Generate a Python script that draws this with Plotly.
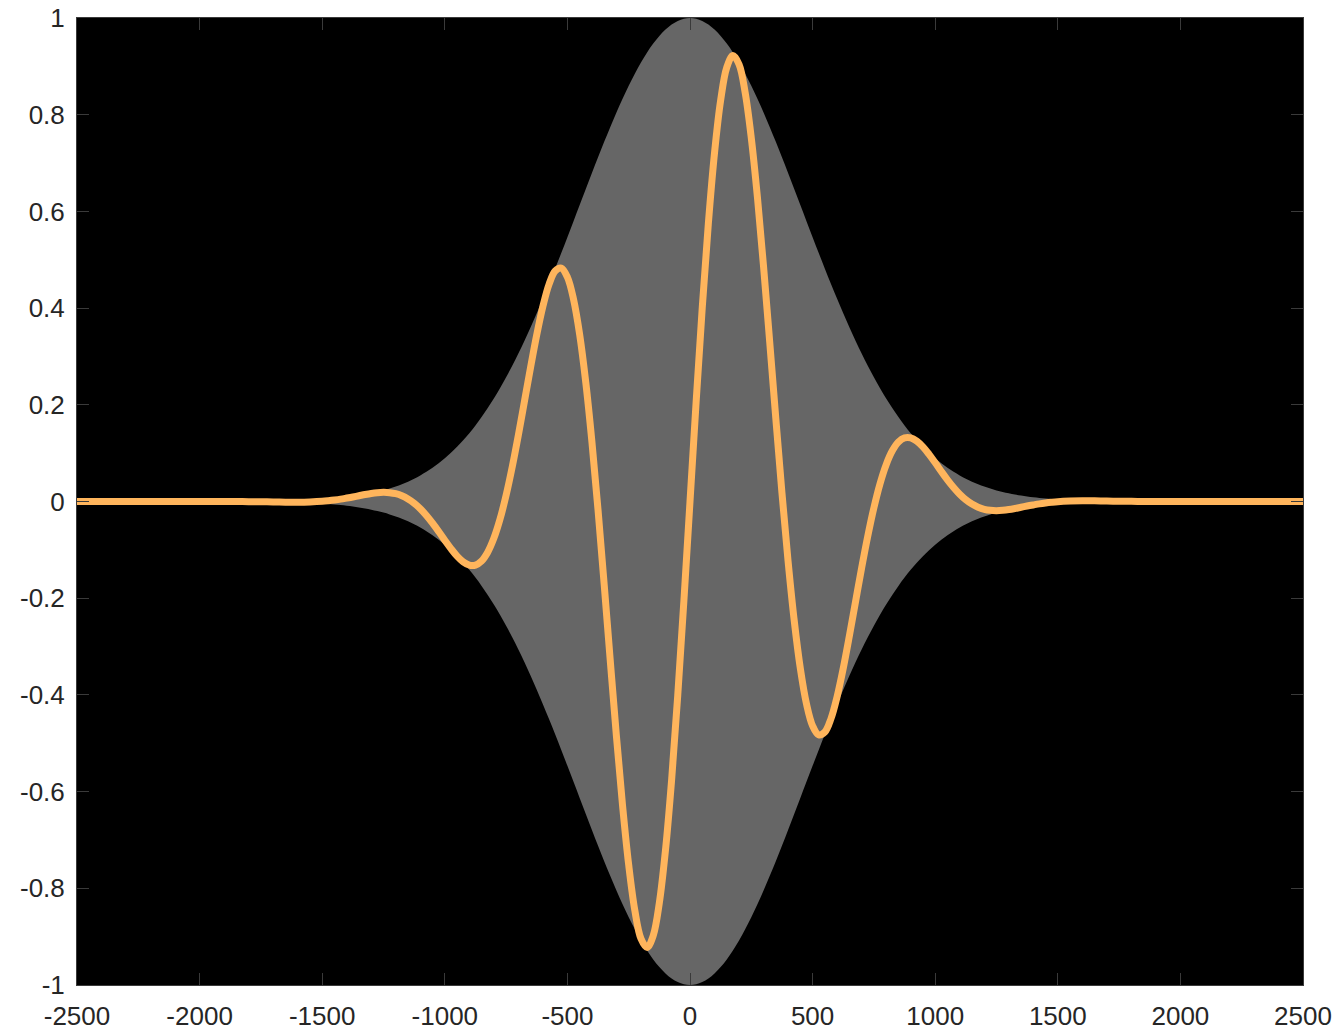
import plotly.graph_objects as go

# Sample positions: coarse in the flat tails, finer across the packet
x_vals = (list(range(-2500, -1500, 50))
          + list(range(-1500, 1501, 25))
          + list(range(1550, 2501, 50)))

# Gaussian envelope amplitude at each sample
envelope = [
    # -2500 .. -1550
    0, 0, 0, 0, 0, 0, 0, 0, 0, 0,
    0.0001, 0.0001, 0.0002, 0.0003, 0.0004, 0.0006, 0.0009, 0.0014, 0.0021, 0.0030,
    # -1500 .. -25
    0.0044, 0.0052, 0.0062, 0.0074, 0.0088, 0.0104, 0.0123, 0.0144, 0.0169, 0.0197,
    0.0230, 0.0267, 0.0309, 0.0356, 0.0410, 0.0470, 0.0538, 0.0613, 0.0697, 0.0791,
    0.0893, 0.1006, 0.1130, 0.1266, 0.1413, 0.1574, 0.1746, 0.1932, 0.2131, 0.2344,
    0.2570, 0.2809, 0.3062, 0.3327, 0.3604, 0.3893, 0.4191, 0.4500, 0.4816, 0.5139,
    0.5467, 0.5798, 0.6132, 0.6464, 0.6794, 0.7120, 0.7439, 0.7748, 0.8046, 0.8330,
    0.8599, 0.8849, 0.9079, 0.9287, 0.9471, 0.9630, 0.9761, 0.9865, 0.9940, 0.9985,
    # 0
    1.0,
    # 25 .. 1500
    0.9985, 0.9940, 0.9865, 0.9761, 0.9630, 0.9471, 0.9287, 0.9079, 0.8849, 0.8599,
    0.8330, 0.8046, 0.7748, 0.7439, 0.7120, 0.6794, 0.6464, 0.6132, 0.5798, 0.5467,
    0.5139, 0.4816, 0.4500, 0.4191, 0.3893, 0.3604, 0.3327, 0.3062, 0.2809, 0.2570,
    0.2344, 0.2131, 0.1932, 0.1746, 0.1574, 0.1413, 0.1266, 0.1130, 0.1006, 0.0893,
    0.0791, 0.0697, 0.0613, 0.0538, 0.0470, 0.0410, 0.0356, 0.0309, 0.0267, 0.0230,
    0.0197, 0.0169, 0.0144, 0.0123, 0.0104, 0.0088, 0.0074, 0.0062, 0.0052, 0.0044,
    # 1550 .. 2500
    0.0030, 0.0021, 0.0014, 0.0009, 0.0006, 0.0004, 0.0003, 0.0002, 0.0001, 0.0001,
    0, 0, 0, 0, 0, 0, 0, 0, 0, 0,
]

# Modulated wave packet at each sample
wave = [
    # -2500 .. -1550
    0, 0, 0, 0, 0, 0, 0, 0, 0, 0, 0, 0, 0,
    -0.0001, -0.0003, -0.0006, -0.0009, -0.0013, -0.0014, -0.0009,
    # -1500 .. -25
    0.0004, 0.0016, 0.0031, 0.0049, 0.0071, 0.0094, 0.0119, 0.0144, 0.0166, 0.0182,
    0.0189, 0.0183, 0.0161, 0.0119, 0.0054, -0.0035, -0.0150, -0.0289, -0.0448, -0.0622,
    -0.0802, -0.0975, -0.1129, -0.1248, -0.1316, -0.1315, -0.1230, -0.1048, -0.0762, -0.0369,
    0.0128, 0.0716, 0.1374, 0.2074, 0.2780, 0.3449, 0.4035, 0.4490, 0.4768, 0.4829,
    0.4641, 0.4184, 0.3454, 0.2461, 0.1235, -0.0178, -0.1715, -0.3304, -0.4858, -0.6292,
    -0.7517, -0.8456, -0.9041, -0.9224, -0.8978, -0.8299, -0.7211, -0.5759, -0.4013, -0.2060,
    # 0
    0.0,
    # 25 .. 1500
    0.2060, 0.4013, 0.5759, 0.7211, 0.8299, 0.8978, 0.9224, 0.9041, 0.8456, 0.7517,
    0.6292, 0.4858, 0.3304, 0.1715, 0.0178, -0.1235, -0.2461, -0.3454, -0.4184, -0.4641,
    -0.4829, -0.4768, -0.4490, -0.4035, -0.3449, -0.2780, -0.2074, -0.1374, -0.0716, -0.0128,
    0.0369, 0.0762, 0.1048, 0.1230, 0.1315, 0.1316, 0.1248, 0.1129, 0.0975, 0.0802,
    0.0622, 0.0448, 0.0289, 0.0150, 0.0035, -0.0054, -0.0119, -0.0161, -0.0183, -0.0189,
    -0.0182, -0.0166, -0.0144, -0.0119, -0.0094, -0.0071, -0.0049, -0.0031, -0.0016, -0.0004,
    # 1550 .. 2500
    0.0009, 0.0014, 0.0013, 0.0009, 0.0006, 0.0003, 0.0001,
    0, 0, 0, 0, 0, 0, 0, 0, 0, 0, 0, 0, 0,
]

x_ticks = [-2500, -2000, -1500, -1000, -500, 0, 500, 1000, 1500, 2000, 2500]
x_tick_text = ["-2500", "-2000", "-1500", "-1000", "-500", "0",
               "500", "1000", "1500", "2000", "2500"]
y_ticks = [-1, -0.8, -0.6, -0.4, -0.2, 0, 0.2, 0.4, 0.6, 0.8, 1]
y_tick_text = ["-1", "-0.8", "-0.6", "-0.4", "-0.2", "0",
               "0.2", "0.4", "0.6", "0.8", "1"]

GRAY = "#666666"
ORANGE = "#FFB55C"
AXIS = "#3a3a3a"
TEXT = "#262626"

fig = go.Figure()

# Shaded envelope: lower bound then upper bound filled between
fig.add_trace(go.Scatter(
    x=x_vals, y=[-e for e in envelope], mode="lines",
    line=dict(color=GRAY, width=0, shape="spline"),
    hoverinfo="skip", showlegend=False,
))
fig.add_trace(go.Scatter(
    x=x_vals, y=envelope, mode="lines",
    line=dict(color=GRAY, width=0, shape="spline"),
    fill="tonexty", fillcolor=GRAY,
    hoverinfo="skip", showlegend=False,
))

# Wave packet
fig.add_trace(go.Scatter(
    x=x_vals, y=wave, mode="lines",
    line=dict(color=ORANGE, width=7, shape="spline"),
    showlegend=False,
))

axis_common = dict(
    showgrid=False, zeroline=False, automargin=False,
    showline=True, linecolor=AXIS, linewidth=1, mirror="ticks",
    ticks="inside", ticklen=12, tickcolor=AXIS, tickwidth=1,
    tickfont=dict(family="Liberation Sans, Arial, sans-serif", size=26, color=TEXT),
)

fig.update_xaxes(range=[-2500, 2500], tickvals=x_ticks, ticktext=x_tick_text,
                 ticklabelstandoff=8, **axis_common)
fig.update_yaxes(range=[-1, 1], tickvals=y_ticks, ticktext=y_tick_text,
                 ticklabelstandoff=6, **axis_common)

fig.update_layout(
    width=1334, height=1031,
    margin=dict(l=77, r=31, t=18, b=46),
    paper_bgcolor="white", plot_bgcolor="black",
)

fig.write_html("out.html")
